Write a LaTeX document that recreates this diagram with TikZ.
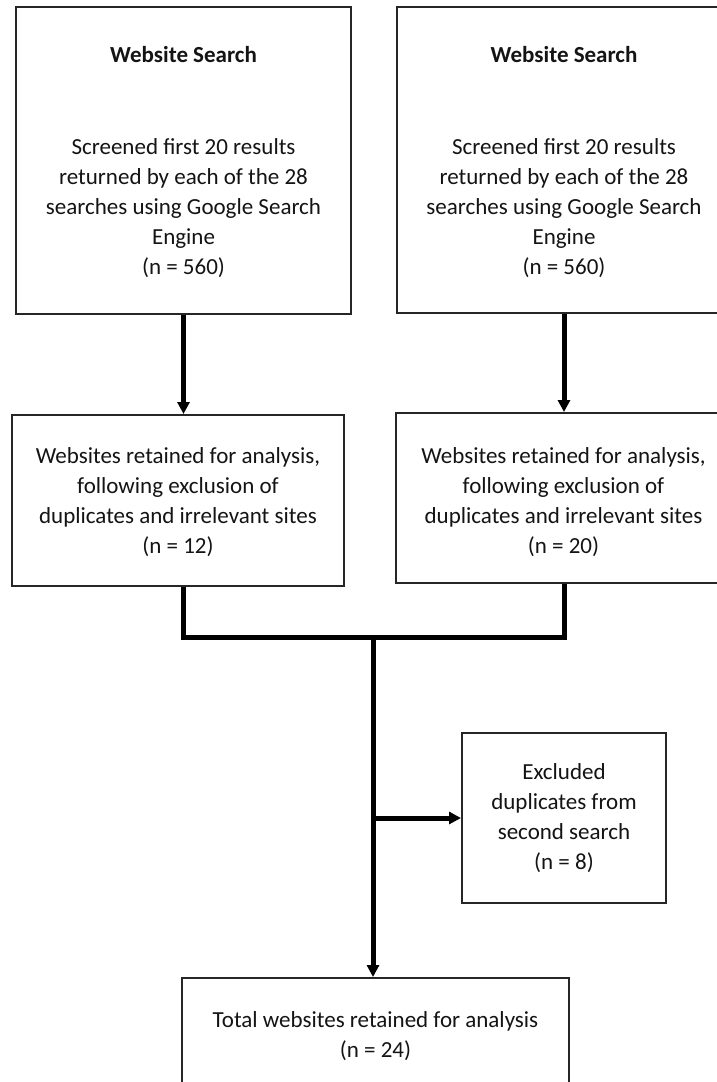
\documentclass[tikz,border=0pt]{standalone}
\usepackage{fontspec}
\setmainfont{Carlito}
\usetikzlibrary{arrows.meta}
\begin{document}
\begin{tikzpicture}[x=1pt,y=-1pt,
  box/.style={draw=black!85,line width=2pt,fill=white,inner sep=0pt},
  txt/.style={align=center,inner sep=0pt,font=\fontsize{23}{30}\selectfont,text=black!92},
  title/.style={txt,font=\fontsize{23}{30}\selectfont\bfseries},
  link/.style={line width=5pt,black,line join=miter},
  arr/.style={link,-{Triangle[length=12pt,width=12pt]}}]
\path[use as bounding box] (0,0) rectangle (717,1082);
\clip (0,0) rectangle (717,1082);

% search boxes
\node[box,minimum width=335pt,minimum height=307pt] (b1) at (183.5,160.5) {};
\node[title] (t1) at (183.5,55) {Website Search};
\node[txt] (c1) at (183.5,208.5) {Screened first 20 results\\returned by each of the 28\\searches using Google Search\\Engine\\(n = 560)};

\node[box,minimum width=334pt,minimum height=306pt] (b2) at (564,160) {};
\node[title] (t2) at (564,55) {Website Search};
\node[txt] (c2) at (564,208.5) {Screened first 20 results\\returned by each of the 28\\searches using Google Search\\Engine\\(n = 560)};

% retained after screening
\node[box,minimum width=332pt,minimum height=171pt] (b3) at (178,500.5) {};
\node[txt] (c3) at (178,502) {Websites retained for analysis,\\following exclusion of\\duplicates and irrelevant sites\\(n = 12)};

\node[box,minimum width=335pt,minimum height=170pt] (b4) at (563.5,498) {};
\node[txt] (c4) at (563.5,502) {Websites retained for analysis,\\following exclusion of\\duplicates and irrelevant sites\\(n = 20)};

% exclusions
\node[box,minimum width=204pt,minimum height=170pt] (b6) at (564,818) {};
\node[txt] (c6) at (564,818) {Excluded\\duplicates from\\second search\\(n = 8)};

% total
\node[box,minimum width=387pt,minimum height=142pt] (b5) at (375.5,1049) {};
\node[txt] (c5) at (375.5,1036) {Total websites retained for analysis\\(n = 24)};

% connectors
\coordinate (j) at (373,637);
\draw[arr] (b1.south) -- (b1.south |- b3.north);
\draw[arr] (b2.south) -- (b2.south |- b4.north);
\draw[link] (b1.south |- b3.south) -- (b1.south |- j) -- (b2.south |- j) -- (b2.south |- b4.south);
\draw[arr] (j) -- (j |- b5.north);
\coordinate (k) at (j |- b6.west);
\draw[arr] (k) -- (b6.west);
\end{tikzpicture}
\end{document}
